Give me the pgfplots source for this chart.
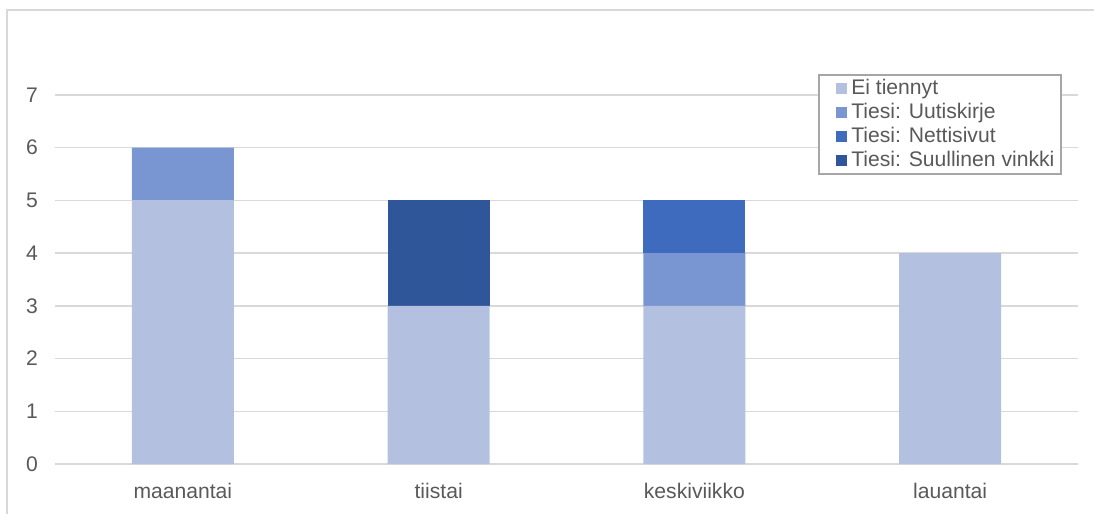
\documentclass[border=0pt]{standalone}
\usepackage{pgfplots}
\pgfplotsset{compat=1.18}
\usepackage{fontspec}
\setmainfont{Liberation Sans}
\definecolor{c1}{HTML}{B4C0E0}
\definecolor{c2}{HTML}{7A96D2}
\definecolor{c3}{HTML}{3F6BBE}
\definecolor{c4}{HTML}{30569A}
\definecolor{gridc}{HTML}{D9D9D9}
\definecolor{txt}{HTML}{595959}
\definecolor{legc}{HTML}{A6A6A6}
\pgfplotsset{sqlegend/.style={legend image code/.code={\path (-6bp,0bp); \fill[##1,draw=none] (0bp,-2.9bp) rectangle (5.6bp,2.9bp);}}}
\begin{document}
\begin{tikzpicture}[x=1bp,y=1bp]
\useasboundingbox (0,0) rectangle (547,256.5);
\begin{scope}
\clip (0,0) rectangle (547,256.5);
\draw[gridc,line width=0.8bp] (3.6,-10) rectangle (560,251.6);
\end{scope}
\begin{axis}[
  at={(27.5bp,24.5bp)}, anchor=south west,
  scale only axis, width=511.5bp, height=210.86bp,
  ybar stacked, bar width=51bp,
  xmin=-0.5, xmax=3.5, ymin=0, ymax=8,
  xtick=data, xticklabels={maanantai,tiistai,keskiviikko,lauantai},
  ytick={0,1,...,7},
  ymajorgrids, grid style={gridc,line width=0.75bp},
  axis line style={draw=none},
  major tick length=0pt,
  tick label style={font=\fontsize{10.6}{12.7}\selectfont, text=txt},
  /pgf/number format/assume math mode=true,
  yticklabel style={xshift=-5bp},
  xticklabel style={yshift=-6bp},
  legend style={at={(0.746,0.925)}, anchor=north west, draw=legc, line width=1bp,
    font=\fontsize{10.6}{12}\selectfont, text=txt, inner xsep=2.5bp, inner ysep=0.8bp,
    nodes={inner sep=0.75bp, text height=8bp, text depth=2.5bp},
    row sep=0bp, /tikz/every odd column/.append style={column sep=1.2bp},
    /tikz/every even column/.append style={column sep=0bp}},
  legend cell align=left,
]
\addplot+[sqlegend, fill=c1, draw=none] coordinates {(0,5) (1,3) (2,3) (3,4)};
\addplot+[sqlegend, fill=c2, draw=none] coordinates {(0,1) (1,0) (2,1) (3,0)};
\addplot+[sqlegend, fill=c3, draw=none] coordinates {(0,0) (1,0) (2,1) (3,0)};
\addplot+[sqlegend, fill=c4, draw=none] coordinates {(0,0) (1,2) (2,0) (3,0)};
\legend{Ei tiennyt,Tiesi: Uutiskirje,Tiesi: Nettisivut,Tiesi: Suullinen vinkki}
\end{axis}
\end{tikzpicture}
\end{document}
